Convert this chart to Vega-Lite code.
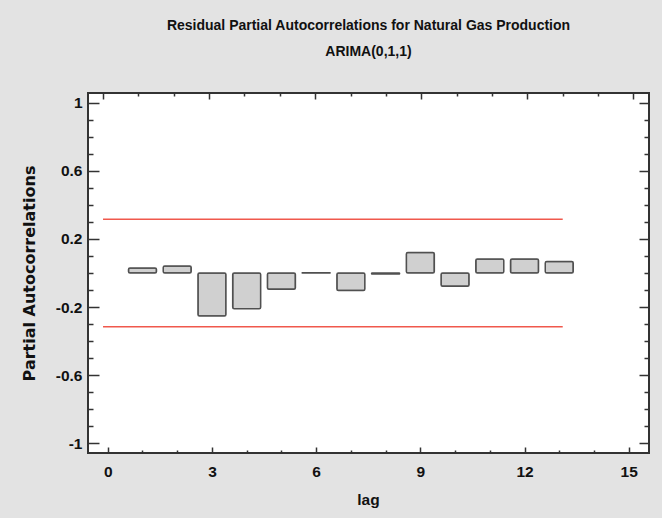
{
  "$schema": "https://vega.github.io/schema/vega-lite/v6.json",
  "autosize": {"type": "none"},
  "padding": {"left": 88, "top": 93, "right": 13, "bottom": 65},
  "width": 561,
  "height": 360,
  "background": "#e3e3e3",
  "config": {
    "view": {"fill": "white", "stroke": "#333333", "strokeWidth": 2},
    "font": "Liberation Sans, Arial, sans-serif"
  },
  "title": {
    "text": "Residual Partial Autocorrelations for Natural Gas Production",
    "subtitle": "ARIMA(0,1,1)",
    "anchor": "middle",
    "frame": "group",
    "font": "Liberation Sans, Arial, sans-serif",
    "fontSize": 14,
    "fontWeight": "bold",
    "color": "#111111",
    "subtitleFont": "Liberation Sans, Arial, sans-serif",
    "subtitleFontSize": 14,
    "subtitleFontWeight": "bold",
    "subtitleColor": "#111111",
    "subtitlePadding": 12,
    "offset": 33
  },
  "resolve": {"scale": {"x": "independent", "y": "independent"}},
  "layer": [
    {
      "data": {"values": [
        {"lag": 1, "pacf": 0.030},
        {"lag": 2, "pacf": 0.041},
        {"lag": 3, "pacf": -0.252},
        {"lag": 4, "pacf": -0.209},
        {"lag": 5, "pacf": -0.096},
        {"lag": 6, "pacf": 0.001},
        {"lag": 7, "pacf": -0.102},
        {"lag": 8, "pacf": -0.006},
        {"lag": 9, "pacf": 0.121},
        {"lag": 10, "pacf": -0.078},
        {"lag": 11, "pacf": 0.082},
        {"lag": 12, "pacf": 0.082},
        {"lag": 13, "pacf": 0.068}
      ]},
      "mark": {"type": "bar", "width": 28, "fill": "#d0d0d0", "stroke": "#505050", "strokeWidth": 1.5, "cornerRadius": 1.5},
      "encoding": {
        "x": {
          "field": "lag", "type": "quantitative",
          "scale": {"domain": [-0.425, 15.44], "nice": false, "zero": false},
          "axis": {
            "orient": "bottom",
            "values": [0,1,2,3,4,5,6,7,8,9,10,11,12,13,14,15],
            "labelExpr": "datum.value % 3 === 0 ? datum.label : ''",
            "tickSize": {"condition": {"test": "datum.value % 3 === 0", "value": -6}, "value": -3},
            "tickColor": "#333333",
            "tickWidth": 1.5,
            "domain": false,
            "grid": false,
            "labelPadding": 17,
            "labelFont": "Liberation Sans, Arial, sans-serif",
            "labelFontSize": 15.5,
            "labelFontWeight": "bold",
            "labelColor": "#111111",
            "labelFlush": false,
            "labelOverlap": false,
            "title": "lag",
            "titleFont": "Liberation Sans, Arial, sans-serif",
            "titleFontSize": 15.5,
            "titleFontWeight": "bold",
            "titleColor": "#111111",
            "titleX": 280,
            "titleY": 51,
            "titleAlign": "center",
            "titleBaseline": "alphabetic"
          }
        },
        "y": {
          "field": "pacf", "type": "quantitative",
          "scale": {"domain": [-1.056, 1.056], "nice": false, "zero": false},
          "axis": {
            "orient": "left",
            "values": [-1,-0.9,-0.8,-0.7,-0.6,-0.5,-0.4,-0.3,-0.2,-0.1,0,0.1,0.2,0.3,0.4,0.5,0.6,0.7,0.8,0.9,1],
            "labelExpr": "(round(datum.value*10)+10) % 4 === 0 ? toString(round(datum.value*10)/10) : ''",
            "tickSize": {"condition": {"test": "(round(datum.value*10)+10) % 4 === 0", "value": -11}, "value": -5},
            "tickColor": "#333333",
            "tickWidth": 1.5,
            "domain": false,
            "grid": false,
            "labelPadding": 17,
            "labelFont": "Liberation Sans, Arial, sans-serif",
            "labelFontSize": 15.5,
            "labelFontWeight": "bold",
            "labelColor": "#111111",
            "labelFlush": false,
            "labelOverlap": false,
            "title": "Partial Autocorrelations",
            "titleFont": "DejaVu Sans",
            "titleFontSize": 16,
            "titleFontWeight": "bold",
            "titleColor": "#111111",
            "titleAngle": -90,
            "titleX": -59,
            "titleY": 180,
            "titleAlign": "center",
            "titleBaseline": "middle"
          }
        }
      }
    },
    {
      "data": {"values": [
        {"start": 0, "end": 13, "limit": 0.316},
        {"start": 0, "end": 13, "limit": -0.316}
      ]},
      "mark": {"type": "rule", "color": "#f0584c", "strokeWidth": 1.5},
      "encoding": {
        "x": {
          "field": "start", "type": "quantitative",
          "scale": {"domain": [-0.425, 15.44], "nice": false, "zero": false},
          "axis": {
            "orient": "top",
            "values": [0,1,2,3,4,5,6,7,8,9,10,11,12,13,14,15],
            "labels": false,
            "tickSize": {"condition": {"test": "datum.value % 3 === 0", "value": -6}, "value": -3},
            "tickColor": "#333333",
            "tickWidth": 1.5,
            "domain": false,
            "grid": false,
            "title": null
          }
        },
        "x2": {"field": "end"},
        "y": {
          "field": "limit", "type": "quantitative",
          "scale": {"domain": [-1.056, 1.056], "nice": false, "zero": false},
          "axis": {
            "orient": "right",
            "values": [-1,-0.9,-0.8,-0.7,-0.6,-0.5,-0.4,-0.3,-0.2,-0.1,0,0.1,0.2,0.3,0.4,0.5,0.6,0.7,0.8,0.9,1],
            "labels": false,
            "tickSize": {"condition": {"test": "(round(datum.value*10)+10) % 4 === 0", "value": -10}, "value": -5},
            "tickColor": "#333333",
            "tickWidth": 1.5,
            "domain": false,
            "grid": false,
            "title": null
          }
        }
      }
    }
  ]
}
